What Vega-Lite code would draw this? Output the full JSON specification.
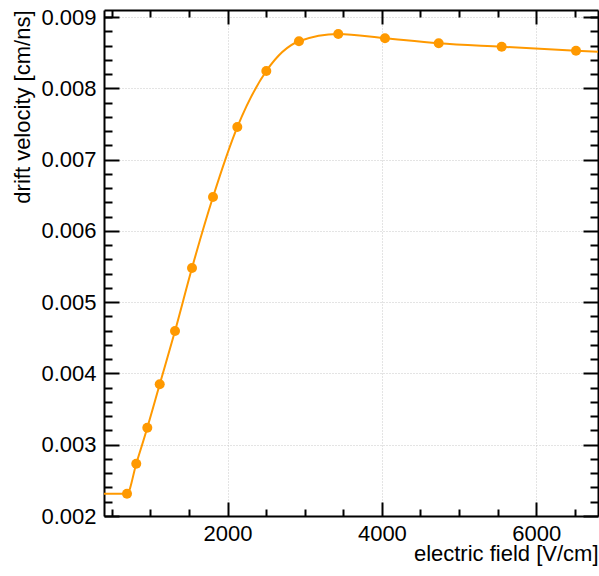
{
  "$schema": "https://vega.github.io/schema/vega-lite/v6.json",
  "autosize": {"type": "none"},
  "padding": {"left": 104, "top": 10, "right": 1, "bottom": 60},
  "width": 494,
  "height": 506,
  "background": "white",
  "config": {
    "view": {"stroke": null},
    "font": "Liberation Sans",
    "axis": {
      "domainColor": "black",
      "domainWidth": 2,
      "tickColor": "black",
      "tickWidth": 2,
      "labelFont": "Liberation Sans",
      "labelFontSize": 22,
      "labelColor": "black",
      "titleFont": "Liberation Sans",
      "titleFontSize": 22,
      "titleFontWeight": "normal",
      "titleColor": "black",
      "gridColor": "#c8c8c8",
      "gridDash": [1, 2],
      "gridWidth": 1
    }
  },
  "data": {
    "values": [
      {"field": 400, "velocity": 0.002313, "marker": false},
      {"field": 698, "velocity": 0.002313, "marker": true},
      {"field": 818, "velocity": 0.002734, "marker": true},
      {"field": 961, "velocity": 0.003239, "marker": true},
      {"field": 1122, "velocity": 0.003848, "marker": true},
      {"field": 1320, "velocity": 0.004596, "marker": true},
      {"field": 1540, "velocity": 0.00548, "marker": true},
      {"field": 1812, "velocity": 0.006476, "marker": true},
      {"field": 2127, "velocity": 0.007458, "marker": true},
      {"field": 2503, "velocity": 0.008244, "marker": true},
      {"field": 2926, "velocity": 0.008661, "marker": true},
      {"field": 3435, "velocity": 0.008763, "marker": true},
      {"field": 4040, "velocity": 0.008703, "marker": true},
      {"field": 4736, "velocity": 0.008633, "marker": true},
      {"field": 5552, "velocity": 0.008585, "marker": true},
      {"field": 6515, "velocity": 0.008529, "marker": true},
      {"field": 6800, "velocity": 0.008515, "marker": false}
    ]
  },
  "resolve": {"axis": {"x": "independent", "y": "independent"}},
  "layer": [
    {
      "mark": {"type": "line", "color": "#ff9900", "strokeWidth": 2, "interpolate": "monotone", "clip": true},
      "encoding": {
        "x": {
          "field": "field", "type": "quantitative",
          "scale": {"domain": [400, 6800], "nice": false, "zero": false},
          "axis": {
            "orient": "bottom",
            "title": "electric field [V/cm]",
            "titleX": 494, "titleY": 44, "titleAlign": "right", "titleBaseline": "alphabetic", "titleAnchor": null,
            "values": [2000, 4000, 6000],
            "format": "d",
            "tickSize": -14,
            "labelPadding": 21,
            "grid": true
          }
        },
        "y": {
          "field": "velocity", "type": "quantitative",
          "scale": {"domain": [0.002, 0.0091], "nice": false, "zero": false},
          "axis": {
            "orient": "left",
            "title": "drift velocity [cm/ns]",
            "titleX": -82, "titleY": 0, "titleAngle": -90, "titleAlign": "right", "titleBaseline": "middle", "titleAnchor": null,
            "values": [0.002, 0.003, 0.004, 0.005, 0.006, 0.007, 0.008, 0.009],
            "format": ".3f",
            "tickSize": -15,
            "labelPadding": 23,
            "grid": true
          }
        }
      }
    },
    {
      "transform": [{"filter": "datum.marker"}],
      "mark": {"type": "point", "filled": true, "color": "#ff9900", "opacity": 1, "size": 100},
      "encoding": {
        "x": {
          "field": "field", "type": "quantitative",
          "axis": {
            "orient": "bottom", "title": null, "labels": false, "grid": false, "domain": false,
            "values": [500, 1000, 1500, 2500, 3000, 3500, 4500, 5000, 5500, 6500],
            "tickSize": -7
          }
        },
        "y": {
          "field": "velocity", "type": "quantitative",
          "axis": {
            "orient": "left", "title": null, "labels": false, "grid": false, "domain": false,
            "values": [0.0022, 0.0024, 0.0026, 0.0028, 0.0032, 0.0034, 0.0036, 0.0038, 0.0042, 0.0044, 0.0046, 0.0048, 0.0052, 0.0054, 0.0056, 0.0058, 0.0062, 0.0064, 0.0066, 0.0068, 0.0072, 0.0074, 0.0076, 0.0078, 0.0082, 0.0084, 0.0086, 0.0088, 0.0090],
            "tickSize": -8
          }
        }
      }
    },
    {
      "mark": {"type": "point", "opacity": 0},
      "encoding": {
        "x": {
          "field": "field", "type": "quantitative",
          "axis": {
            "orient": "top", "title": null, "labels": false, "grid": false,
            "values": [2000, 4000, 6000],
            "tickSize": -14
          }
        },
        "y": {
          "field": "velocity", "type": "quantitative",
          "axis": {
            "orient": "right", "title": null, "labels": false, "grid": false,
            "values": [0.002, 0.003, 0.004, 0.005, 0.006, 0.007, 0.008, 0.009],
            "tickSize": -15
          }
        }
      }
    },
    {
      "mark": {"type": "point", "opacity": 0},
      "encoding": {
        "x": {
          "field": "field", "type": "quantitative",
          "axis": {
            "orient": "top", "title": null, "labels": false, "grid": false, "domain": false,
            "values": [500, 1000, 1500, 2500, 3000, 3500, 4500, 5000, 5500, 6500],
            "tickSize": -7
          }
        },
        "y": {
          "field": "velocity", "type": "quantitative",
          "axis": {
            "orient": "right", "title": null, "labels": false, "grid": false, "domain": false,
            "values": [0.0022, 0.0024, 0.0026, 0.0028, 0.0032, 0.0034, 0.0036, 0.0038, 0.0042, 0.0044, 0.0046, 0.0048, 0.0052, 0.0054, 0.0056, 0.0058, 0.0062, 0.0064, 0.0066, 0.0068, 0.0072, 0.0074, 0.0076, 0.0078, 0.0082, 0.0084, 0.0086, 0.0088, 0.0090],
            "tickSize": -8
          }
        }
      }
    }
  ]
}
